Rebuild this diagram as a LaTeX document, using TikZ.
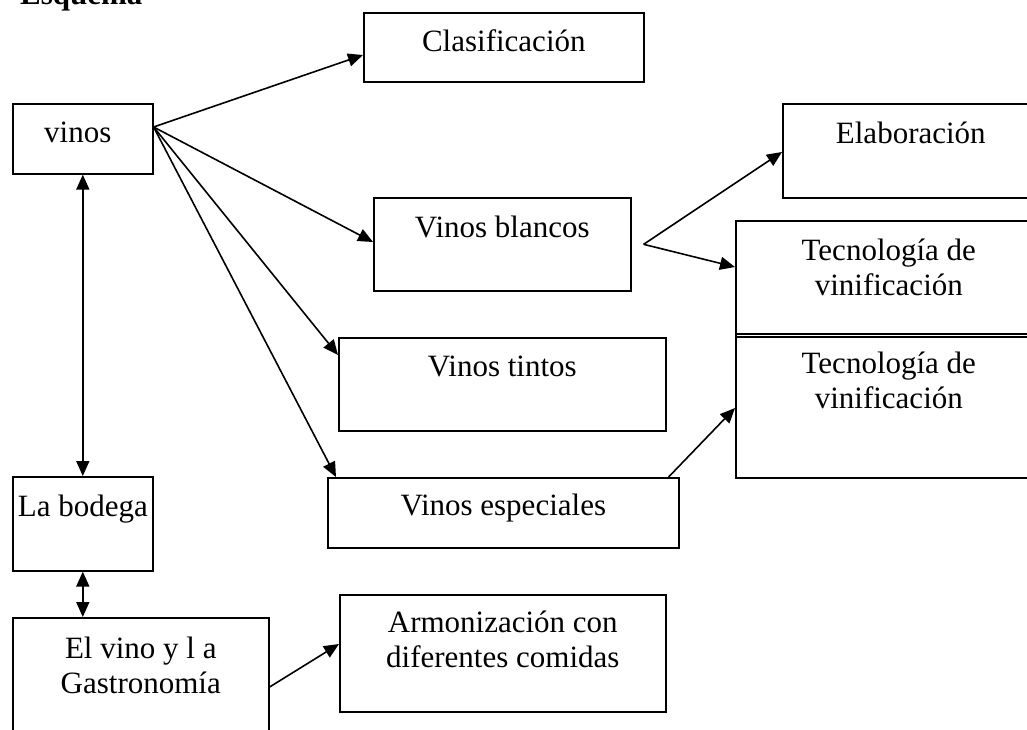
\documentclass[tikz,border=0pt]{standalone}
\usepackage{fontspec}
\setmainfont{Liberation Serif}
\usetikzlibrary{arrows.meta,calc}
\tikzset{
  box/.style={draw, line width=1.6pt, inner sep=0pt, anchor=north west},
  txt/.style={inner sep=0pt, anchor=north, align=center, font=\fontsize{31}{35}\selectfont},
  arr/.style={line width=1.6pt, -{Triangle[length=15pt,width=13pt]}},
  darr/.style={line width=1.6pt, {Triangle[length=15pt,width=13pt]}-{Triangle[length=15pt,width=13pt]}},
}
\begin{document}
\begin{tikzpicture}[x=1pt,y=-1pt]
\clip (0,0) rectangle (1027,729);
\fill[white] (0,0) rectangle (1027,729);
\node[inner sep=0pt, anchor=base west, font=\fontsize{31}{34}\selectfont\bfseries] (title) at (20,4) {Esquema};
% boxes
\node[box, minimum width=280pt, minimum height=69pt] (clas) at (363,12) {};
\node[box, minimum width=140pt, minimum height=70pt] (vinos) at (12,103) {};
\node[box, minimum width=256pt, minimum height=94pt] (elab) at (782,103) {};
\node[box, minimum width=257pt, minimum height=93pt] (blancos) at (373,197) {};
\node[box, minimum width=306pt, minimum height=116pt] (tec1) at (735,220) {};
\node[box, minimum width=327pt, minimum height=93pt] (tintos) at (338,337) {};
\node[box, minimum width=306pt, minimum height=144pt] (tec2) at (735,333) {};
\node[box, minimum width=140pt, minimum height=94pt] (bodega) at (12,476) {};
\node[box, minimum width=351pt, minimum height=70pt] (esp) at (327,477) {};
\node[box, minimum width=256pt, minimum height=130pt] (elvino) at (12,617) {};
\node[box, minimum width=326pt, minimum height=117pt] (armon) at (339,594) {};
% texts
\node[txt] (tclas) at ([yshift=-17pt]clas.north) {Clasificación};
\node[txt] (tvinos) at ([yshift=-19pt,xshift=-5pt]vinos.north) {vinos};
\node[txt] (telab) at ([yshift=-19pt]elab.north) {Elaboración};
\node[txt] (tblancos) at ([yshift=-19pt]blancos.north) {Vinos blancos};
\node[txt] (ttec1) at ([yshift=-19pt]tec1.north) {Tecnología de\\vinificación};
\node[txt] (ttintos) at ([yshift=-19pt]tintos.north) {Vinos tintos};
\node[txt] (ttec2) at ([yshift=-19pt]tec2.north) {Tecnología de\\vinificación};
\node[txt] (tbodega) at ([yshift=-19pt]bodega.north) {La bodega};
\node[txt] (tesp) at ([yshift=-17pt]esp.north) {Vinos especiales};
\node[txt] (telvino) at ([yshift=-20pt]elvino.north) {El vino y l a\\Gastronomía};
\node[txt] (tarmon) at ([yshift=-17pt]armon.north) {Armonización con\\diferentes comidas};
% connector points
\coordinate (vsrc) at ([yshift=-24pt]vinos.north east);
\coordinate (bsplit) at ([xshift=12pt]blancos.east);
% connectors
\draw[arr] (vsrc) -- ([yshift=-43pt]clas.north west);
\draw[arr] (vsrc) -- ([yshift=-45pt]blancos.north west);
\draw[arr] (vsrc) -- ([yshift=-18pt]tintos.north west);
\draw[arr] (vsrc) -- ([xshift=9pt]esp.north west);
\draw[darr] (vinos.south) -- (bodega.north);
\draw[darr] (bodega.south) -- (bodega.south |- elvino.north);
\draw[arr] (bsplit) -- ([yshift=-49pt]elab.north west);
\draw[arr] (bsplit) -- ([yshift=-47pt]tec1.north west);
\draw[arr] ([xshift=-11pt]esp.north east) -- ([yshift=-75pt]tec2.north west);
\draw[arr] ([yshift=-70pt]elvino.north east) -- ([yshift=-50pt]armon.north west);
\end{tikzpicture}
\end{document}
